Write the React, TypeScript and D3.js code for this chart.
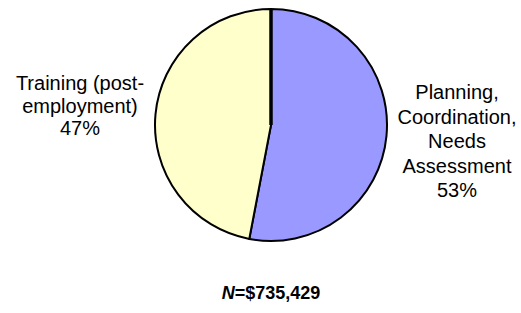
import React, { useEffect, useRef } from 'react'
import * as d3 from 'd3'

// slice data (percent of total)
const categories = ['Planning, Coordination, Needs Assessment', 'Training (post-employment)']
const shares = [53, 47]
const colors = ['#9999FF', '#FFFFCC']
const labelLines = [
    ['Planning,', 'Coordination,', 'Needs', 'Assessment', '53%'],
    ['Training (post-', 'employment)', '47%'],
]
const totalLabel = '$735,429'

const W = 521
const H = 313

export default function App() {
    const ref = useRef<SVGSVGElement>(null)

    useEffect(() => {
        const svg = d3.select(ref.current)
        svg.selectAll('*').remove()

        const cx = 271, cy = 125, r = 116
        const data = categories.map((c, i) => ({ name: c, value: shares[i] }))
        const pie = d3.pie<any>().sort(null).value(d => d.value)
        const arcs = pie(data)
        const arc = d3.arc<any>().innerRadius(0).outerRadius(r)

        const g = svg.append('g').attr('transform', `translate(${cx},${cy})`)

        g.selectAll('path.slice')
            .data(arcs)
            .enter().append('path')
            .attr('class', 'slice')
            .attr('d', arc)
            .attr('fill', (d, i) => colors[i])
            .attr('stroke', '#000')
            .attr('stroke-width', 2)
            .attr('stroke-linejoin', 'round')

        // the first slice edge is drawn heavier in the original
        const a0 = arcs[0].startAngle
        g.append('line')
            .attr('x1', 0).attr('y1', 0)
            .attr('x2', Math.sin(a0) * r).attr('y2', -Math.cos(a0) * r)
            .attr('stroke', '#000')
            .attr('stroke-width', 3.5)

        const font = 'Arial, "Liberation Sans", sans-serif'
        const labelX = [457, 80]
        const labelY = [99, 90]
        const lineH = [24.5, 22.5]

        labelLines.forEach((lines, i) => {
            const t = svg.append('text')
                .attr('text-anchor', 'middle')
                .style('font-family', font)
                .style('font-size', '20px')
                .attr('fill', '#000')
            lines.forEach((l, j) => {
                t.append('tspan')
                    .attr('x', labelX[i])
                    .attr('y', labelY[i] + j * lineH[i])
                    .text(l)
            })
        })

        const n = svg.append('text')
            .attr('x', cx)
            .attr('y', 299)
            .attr('text-anchor', 'middle')
            .style('font-family', font)
            .style('font-size', '18px')
            .style('font-weight', 'bold')
        n.append('tspan').style('font-style', 'italic').text('N')
        n.append('tspan').text('=' + totalLabel)
    }, [])

    return (
        <svg ref={ref} width={W} height={H}
            style={{ position: 'absolute', left: 0, top: 0, background: '#fff' }} />
    )
}
